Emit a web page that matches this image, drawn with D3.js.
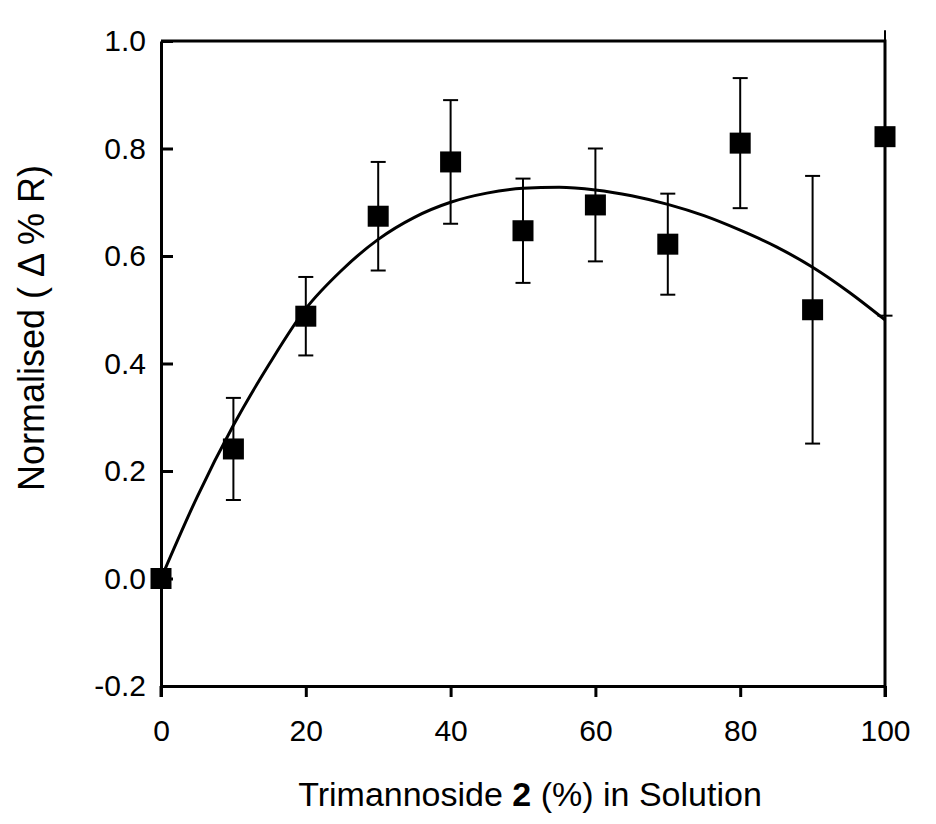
<!DOCTYPE html>
<html>
<head>
<meta charset="utf-8">
<script src="https://cdn.jsdelivr.net/npm/d3@7"></script>
<style>
  html, body { margin: 0; padding: 0; background: #fff; }
  svg { display: block; }
  text { font-family: "Liberation Sans", Arial, sans-serif; fill: #000; }
</style>
</head>
<body>
<svg id="chart" width="936" height="824"></svg>
<script>
// ---- data ----
const concentrations = [0, 10, 20, 30, 40, 50, 60, 70, 80, 90, 100];
const normalisedValues = [0.0, 0.241, 0.488, 0.674, 0.775, 0.647, 0.695, 0.622, 0.810, 0.500, 0.822];
const errorValues = [0.0, 0.095, 0.073, 0.101, 0.115, 0.097, 0.105, 0.094, 0.121, 0.249, 0.333];

// trend line
const trendX = [0, 5, 10, 15, 20, 25, 30, 35, 40, 45, 50, 55, 60, 65, 70, 75, 80, 85, 90, 95, 100];
const trendY = [0.0, 0.152, 0.285, 0.400, 0.502, 0.574, 0.631, 0.672, 0.700, 0.717, 0.726, 0.728, 0.723, 0.712, 0.696, 0.675, 0.648, 0.617, 0.579, 0.533, 0.481];

const xTicks = [0, 20, 40, 60, 80, 100];
const yTicks = [-0.2, 0.0, 0.2, 0.4, 0.6, 0.8, 1.0];
const xDomain = [0, 100];
const yDomain = [-0.2, 1.0];
const errorClipMax = 1.02;

// ---- layout ----
const svg = d3.select("#chart");
const L = 161, R = 885, T = 41, B = 686;

const x = d3.scaleLinear().domain(xDomain).range([L, R]);
const y = d3.scaleLinear().domain(yDomain).range([B, T]);

// trend line
const line = d3.line()
  .x(d => x(d[0]))
  .y(d => y(d[1]))
  .curve(d3.curveMonotoneX);
svg.append("path")
  .datum(trendX.map((v, i) => [v, trendY[i]]))
  .attr("d", line)
  .attr("fill", "none")
  .attr("stroke", "#000")
  .attr("stroke-width", 3);

// error bars
const pts = concentrations.map((c, i) => ({ c, v: normalisedValues[i], e: errorValues[i] }));
const eb = svg.append("g").attr("stroke", "#000").attr("stroke-width", 2);
pts.filter(d => d.e > 0).forEach(d => {
  const hi = Math.min(d.v + d.e, errorClipMax);
  const lo = d.v - d.e;
  eb.append("line").attr("x1", x(d.c)).attr("x2", x(d.c)).attr("y1", y(hi)).attr("y2", y(lo));
  if (d.v + d.e <= errorClipMax) {
    eb.append("line").attr("x1", x(d.c) - 7.5).attr("x2", x(d.c) + 7.5).attr("y1", y(hi)).attr("y2", y(hi));
  }
  eb.append("line").attr("x1", x(d.c) - 7.5).attr("x2", x(d.c) + 7.5).attr("y1", y(lo)).attr("y2", y(lo));
});

// frame (top and right)
svg.append("path")
  .attr("d", `M${L},${T}H${R}V${B}`)
  .attr("fill", "none").attr("stroke", "#000").attr("stroke-width", 3);

const fmtY = d => d3.format(".1f")(d).replace("\u2212", "-");

// x axis (ticks outward)
const xAxis = svg.append("g")
  .attr("transform", `translate(0,${B})`)
  .call(d3.axisBottom(x).tickValues(xTicks).tickFormat(d3.format("d")).tickSizeInner(11).tickSizeOuter(0).tickPadding(23));
xAxis.select(".domain").attr("stroke-width", 3);
xAxis.selectAll(".tick line").attr("stroke-width", 3);
xAxis.selectAll(".tick text").attr("font-size", 30).attr("font-family", "Liberation Sans, Arial, sans-serif");

// y axis (ticks inward)
const yAxis = svg.append("g")
  .attr("transform", `translate(${L},0)`)
  .call(d3.axisLeft(y).tickValues(yTicks).tickFormat(fmtY).tickSizeInner(-12).tickSizeOuter(0).tickPadding(16));
yAxis.select(".domain").attr("stroke-width", 3);
yAxis.selectAll(".tick line").attr("stroke-width", 3);
yAxis.selectAll(".tick text").attr("font-size", 30).attr("font-family", "Liberation Sans, Arial, sans-serif")
  .attr("x", -15).attr("text-anchor", "end");
// extend left/right axis lines down to tick length
svg.append("line").attr("x1", L).attr("x2", L).attr("y1", B).attr("y2", B + 11).attr("stroke", "#000").attr("stroke-width", 3);
svg.append("line").attr("x1", R).attr("x2", R).attr("y1", B).attr("y2", B + 11).attr("stroke", "#000").attr("stroke-width", 3);

// markers
const ms = 21;
svg.append("g").selectAll("rect").data(pts).join("rect")
  .attr("x", d => x(d.c) - ms / 2)
  .attr("y", d => y(d.v) - ms / 2)
  .attr("width", ms).attr("height", ms)
  .attr("fill", "#000");

// axis titles
const xt = svg.append("text")
  .attr("x", 530).attr("y", 806)
  .attr("text-anchor", "middle").attr("font-size", 34);
xt.append("tspan").text("Trimannoside ");
xt.append("tspan").attr("font-weight", "bold").text("2");
xt.append("tspan").text(" (%) in Solution");

svg.append("text")
  .attr("transform", `translate(44,328) rotate(-90)`)
  .attr("text-anchor", "middle").attr("font-size", 36)
  .text("Normalised ( \u0394 % R)");
</script>
</body>
</html>
